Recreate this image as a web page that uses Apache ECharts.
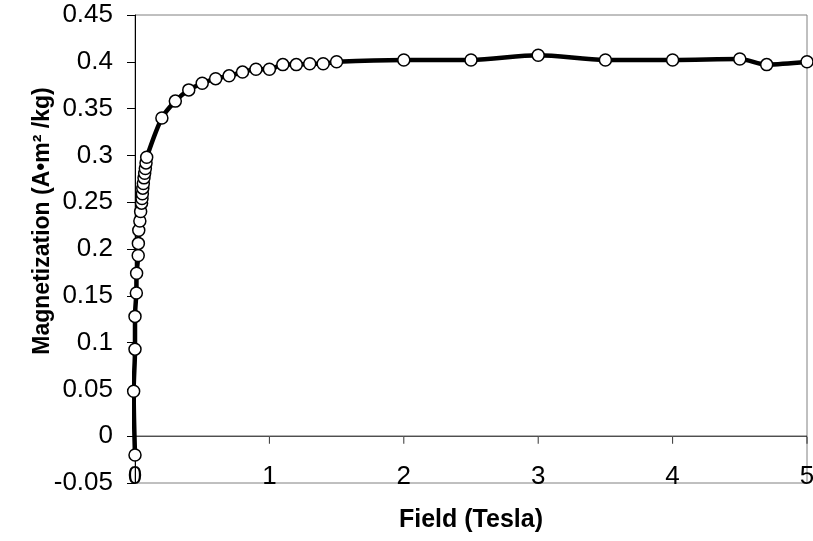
<!DOCTYPE html>
<html><head><meta charset="utf-8">
<script src="https://cdn.jsdelivr.net/npm/echarts@6/dist/echarts.min.js"></script>
<style>html,body{margin:0;padding:0;background:#fff}#c{width:813px;height:541px}</style>
</head><body><div id="c"></div>
<script>
const fieldTesla = [0, -0.01, 0, 0, 0.01, 0.012, 0.024, 0.025, 0.028, 0.036, 0.042, 0.049, 0.052, 0.055, 0.058, 0.062, 0.067, 0.072, 0.077, 0.082, 0.087,
  0.2, 0.3, 0.4, 0.5, 0.6, 0.7, 0.8, 0.9, 1.0, 1.1, 1.2, 1.3, 1.4, 1.5,
  2, 2.5, 3, 3.5, 4, 4.5, 4.7, 5];
const magnetization = [-0.020, 0.048, 0.093, 0.128, 0.153, 0.174, 0.193, 0.206, 0.220, 0.230, 0.240, 0.249, 0.254, 0.259, 0.265, 0.270, 0.276, 0.281, 0.286, 0.292, 0.298,
  0.340, 0.358, 0.370, 0.377, 0.382, 0.385, 0.389, 0.392, 0.392, 0.397, 0.397, 0.398, 0.398, 0.400,
  0.402, 0.402, 0.407, 0.402, 0.402, 0.403, 0.397, 0.400];
const xTickValues = [0, 1, 2, 3, 4, 5];
const xTickLabels = ['0', '1', '2', '3', '4', '5'];
const yTickLabels = ['-0.05', '0', '0.05', '0.1', '0.15', '0.2', '0.25', '0.3', '0.35', '0.4', '0.45'];
const xCrossesAt = 0;
const xTitle = 'Field (Tesla)';
const yTitle = 'Magnetization (A•m² /kg)';

const FONT = 'Arial, "Liberation Sans", sans-serif';
const yMin = -0.05, yMax = 0.45, yStep = 0.05;
const xMin = 0, xMax = 5, xStep = 1;

const chart = echarts.init(document.getElementById('c'), null, {renderer: 'canvas'});
chart.setOption({
  animation: false,
  backgroundColor: '#ffffff',
  grid: {left: 135, right: 6, top: 15, bottom: 58, containLabel: false, outerBoundsMode: 'none',
    show: true, borderColor: '#808080', borderWidth: 1, backgroundColor: 'rgba(0,0,0,0)'},
  xAxis: {
    type: 'value', min: xMin, max: xMax, interval: xStep, position: 'bottom',
    name: xTitle, nameLocation: 'middle', nameGap: 25,
    nameTextStyle: {fontFamily: FONT, fontWeight: 'bold', fontSize: 25, color: '#000', verticalAlign: 'top'},
    axisLine: {show: false, onZero: false},
    axisTick: {show: false},
    axisLabel: {show: true, margin: -6, verticalAlign: 'middle', fontFamily: FONT, fontSize: 26, color: '#000',
      formatter: v => xTickLabels[Math.round((v - xMin) / xStep)]},
    splitLine: {show: false}
  },
  yAxis: {
    type: 'value', min: yMin, max: yMax, interval: yStep,
    axisLine: {show: true, onZero: false, lineStyle: {color: '#000', width: 1}},
    axisTick: {show: true, inside: false, length: 8, lineStyle: {color: '#000'}},
    axisLabel: {show: true, margin: 22, fontFamily: FONT, fontSize: 26, color: '#000',
      formatter: v => yTickLabels[Math.round((v - yMin) / yStep)]},
    splitLine: {show: false}
  },
  graphic: [{
    id: 'ytitle', type: 'text', x: 43, y: 221, rotation: Math.PI / 2, z: 10,
    style: {text: yTitle, fontFamily: FONT, fontWeight: 'bold', fontSize: 23, fill: '#000',
      align: 'center', verticalAlign: 'middle'}
  }],
  series: [{
    // x axis line where it crosses the y axis (y = 0)
    type: 'line', z: 1, silent: true, symbol: 'none',
    data: xTickValues.map(v => [v, xCrossesAt]),
    lineStyle: {color: '#000', width: 1}
  }, {
    // tick marks hanging below that axis line
    type: 'scatter', z: 1, silent: true,
    data: xTickValues.map(v => [v, xCrossesAt]),
    symbol: 'rect', symbolSize: [1, 7], symbolOffset: [0, 4],
    itemStyle: {color: '#000'}
  }, {
    type: 'line', z: 5,
    data: fieldTesla.map((x, i) => [x, magnetization[i]]),
    smooth: 0.3,
    symbol: 'circle', symbolSize: 12, showAllSymbol: true,
    lineStyle: {color: '#000', width: 4.5},
    itemStyle: {color: '#fff', borderColor: '#000', borderWidth: 1.5},
    clip: false
  }]
});
</script>
</body></html>
